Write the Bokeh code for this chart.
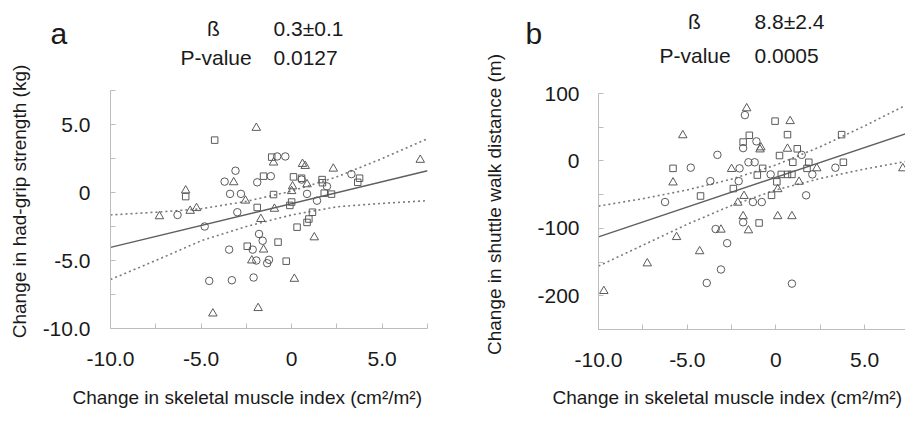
import math
from bokeh.plotting import figure
from bokeh.layouts import row, column
from bokeh.models import Range1d, FixedTicker
from bokeh.core.properties import value
from bokeh.embed import file_html
from bokeh.resources import INLINE

# ---------------- data: panel a (hand-grip strength) ----------------
a_circle_x = [-6.3, -4.8, -3.7, -3.1, -3.4, -2.8, -3.0, -1.9, -1.8, -1.6, -0.8, -0.35, -1.15,
              0.55, 0.85, 1.4, 1.95, 3.3, -3.45, -2.15, -1.95, -1.25, -1.35, -4.55, -3.3, -2.1]
a_circle_y = [-1.65, -2.5, 0.8, 1.6, -0.1, -0.1, -1.45, 0.75, -3.05, -3.55, 2.65, 2.65, 1.2,
              0.95, -0.1, -0.6, 0.45, 1.35, -4.2, -4.2, -5.0, -4.95, -5.2, -6.5, -6.45, -6.25]
a_square_x = [-5.85, -4.25, -1.9, -2.45, -1.1, -1.55, -1.0, -0.75, -0.1, 0.0, 0.1, 0.55,
              1.15, 0.95, 0.85, 0.3, 1.68, 1.7, 1.8, 2.2, 3.75, 3.65, -0.3]
a_square_y = [-0.3, 3.85, -1.1, -3.95, 2.6, 1.2, -0.15, -3.65, -0.95, -0.7, 1.15, 1.05,
              -1.45, -1.95, -2.2, -2.55, 0.95, 0.72, -0.05, -0.12, 1.05, 0.75, -5.05]
a_tri_x = [-7.3, -5.85, -5.6, -5.25, -3.2, -2.55, -1.95, -1.7, -1.0, -0.95, 0.0, 0.05, 0.6,
           0.75, 0.85, 1.25, 2.3, 7.1, -1.55, -2.2, 0.15, -4.35, -1.85]
a_tri_y = [-1.75, 0.15, -1.35, -1.15, 0.75, -0.6, 4.75, -1.95, 2.2, -1.2, 0.1, 0.45, 2.1,
           1.95, 0.6, -3.3, 1.75, 2.4, -4.2, -5.0, -6.35, -8.9, -8.5]
a_fit_y = [-4.04, 1.6]
a_upper = [-1.65, -1.45, -1.2, -0.65, 0.1, 1.15, 2.5, 3.95]
a_lower = [-6.4, -5.0, -3.55, -2.5, -1.65, -1.05, -0.8, -0.6]

# ---------------- data: panel b (shuttle walk distance) ----------------
b_circle_x = [-3.9, -3.1, -2.75, -3.4, -6.25, -4.8, -3.7, -3.3, -2.05, -2.1, -1.85, -1.55,
              -1.2, -1.85, -1.75, -1.1, -1.3, -0.8, -0.3, 0.9, 1.45, 2.05, 1.7, 3.35]
b_circle_y = [-181, -161, -122, -101, -61, -10, -30, 9, -11, -30, -91, -2,
              -2, 19, 68, 29, -61, -61, -20, -182, 9, -20, -51, -10]
b_square_x = [-4.25, -5.8, -2.4, -1.85, -1.5, -0.75, -1.05, 0.3, 0.65, 0.9, 0.05, -0.25,
              -0.95, -0.05, 0.65, 1.2, 0.2, 0.95, 1.85, 1.75, 3.8, 3.7]
b_square_y = [-52, -11, -41, 28, 38, -11, -21, -20, -20, -20, -31, -51,
              -92, 59, 39, 18, 8, -2, -2, -11, -2, 39]
b_tri_x = [-9.7, -7.25, -5.6, -4.3, -3.1, -5.8, -5.25, -2.5, -1.8, -2.15, -1.85, -1.55,
           -1.65, -0.9, -0.85, 0.1, 0.1, 0.9, 0.8, 0.65, 2.3, 1.3, 7.15]
b_tri_y = [-193, -152, -113, -134, -102, -32, 38, -12, -52, -62, -82, -103,
           78, 17, 20, -42, -82, -82, 59, 18, -11, -31, -11]
b_fit_y = [-112.6, 42.1]
b_upper = [-67, -56, -43, -27, -6, 21, 52, 85]
b_lower = [-156, -125, -94, -66, -43, -26, -12, 0]

fit_x = [-10, 7.5]
ci_x = [-10, -7.5, -5, -2.5, 0, 2.5, 5, 7.5]

x_ticks = [-10, -7.5, -5, -2.5, 0, 2.5, 5, 7.5]
x_tick_labels = {-10: "-10.0", -7.5: "", -5: "-5.0", -2.5: "", 0: "0", 2.5: "", 5: "5.0", 7.5: ""}
a_y_ticks = [-10, -7.5, -5, -2.5, 0, 2.5, 5, 7.5]
a_y_tick_labels = {-10: "-10.0", -7.5: "", -5: "-5.0", -2.5: "", 0: "0", 2.5: "", 5: "5.0", 7.5: ""}
b_y_ticks = [-250, -200, -150, -100, -50, 0, 50, 100]
b_y_tick_labels = {-250: "", -200: "-200", -150: "", -100: "-100", -50: "", 0: "0", 50: "", 100: "100"}

x_label = "Change in skeletal muscle index (cm²/m²)"
a_y_label = "Change in had-grip strength (kg)"
b_y_label = "Change in shuttle walk distance (m)"
a_letter, b_letter = "a", "b"
beta_sym = "ß"
p_name = "P-value"
a_beta, a_p = "0.3±0.1", "0.0127"
b_beta, b_p = "8.8±2.4", "0.0005"

FONT = "Liberation Sans"
TXT = "#1a1a1a"
MARK = "#5a5a5a"
AXIS = "#bdbdbd"

TOTAL_H = 408
HEAD_H = 70
FOOT_H = 28
MAIN_H = TOTAL_H - HEAD_H - FOOT_H
SA, SB = 35, 60          # widths of the y-label strips
WA, WB = 425, 385        # widths of the plot columns


def blank(width, height):
    p = figure(width=width, height=height, output_backend="svg", toolbar_location=None,
               x_range=Range1d(0, width), y_range=Range1d(0, height),
               x_axis_location=None, y_axis_location=None,
               min_border_left=0, min_border_right=0, min_border_top=0, min_border_bottom=0)
    p.outline_line_color = None
    p.grid.visible = False
    p.border_fill_color = "white"
    return p


def txt(p, x, y, t, size="21px", align="left", baseline="middle", angle=0.0):
    p.text(x=[x], y=[y], text=[t], text_font=value(FONT), text_font_size=size,
           text_color=TXT, text_align=align, text_baseline=baseline, angle=angle)


def make_panel(width, height, borders, xr, yr, y_ticks, y_tick_labels,
               y_standoff, cx, cy, sx, sy, tx, ty, fit_y, upper, lower):
    left, right, top, bottom = borders
    p = figure(width=width, height=height, output_backend="svg", toolbar_location=None,
               x_range=Range1d(*xr), y_range=Range1d(*yr),
               min_border_left=left, min_border_right=right,
               min_border_top=top, min_border_bottom=bottom)
    p.outline_line_color = None
    p.grid.visible = False
    p.border_fill_color = "white"

    p.xaxis.ticker = FixedTicker(ticks=x_ticks)
    p.xaxis.major_label_overrides = x_tick_labels
    p.yaxis.ticker = FixedTicker(ticks=y_ticks)
    p.yaxis.major_label_overrides = y_tick_labels
    for ax in (p.xaxis, p.yaxis):
        ax.axis_line_color = AXIS
        ax.major_tick_line_color = AXIS
        ax.minor_tick_line_color = None
        ax.major_tick_in = 5
        ax.major_tick_out = 0
        ax.major_label_text_font = FONT
        ax.major_label_text_font_size = "21px"
        ax.major_label_text_color = TXT
    p.xaxis.major_label_standoff = 23
    p.yaxis.major_label_standoff = y_standoff

    p.line(ci_x, upper, line_color="#7a7a7a", line_width=1.6, line_dash="2 3")
    p.line(ci_x, lower, line_color="#7a7a7a", line_width=1.6, line_dash="2 3")
    p.line(fit_x, fit_y, line_color="#5f5f5f", line_width=1.4)

    p.scatter(cx, cy, marker="circle", size=7.5, fill_color=None, line_color=MARK, line_width=1)
    p.scatter(sx, sy, marker="square", size=6.5, fill_color=None, line_color=MARK, line_width=1)
    p.scatter(tx, ty, marker="triangle", size=8.5, fill_color=None, line_color=MARK, line_width=1)
    return p


# ---- panel a: strip 0..35, column 35..460; frame x 110..427, y 90..328 ----
sa = blank(SA, TOTAL_H)
txt(sa, 18.5, TOTAL_H - 201, a_y_label, size="19px", align="center", angle=math.pi / 2)
ha = blank(WA, HEAD_H)
txt(ha, 15, HEAD_H - 33, a_letter, size="30px", baseline="alphabetic")
txt(ha, 178, HEAD_H - 28, beta_sym, align="center")
txt(ha, 238, HEAD_H - 28, a_beta)
txt(ha, 145, HEAD_H - 57, p_name)
txt(ha, 238, HEAD_H - 57, a_p)
pa = make_panel(WA, MAIN_H, (110 - SA, SA + WA - 427, 90 - HEAD_H, HEAD_H + MAIN_H - 328),
                (-10, 7.5), (-10, 7.5), a_y_ticks, a_y_tick_labels, 20,
                a_circle_x, a_circle_y, a_square_x, a_square_y,
                a_tri_x, a_tri_y, a_fit_y, a_upper, a_lower)
fa = blank(WA, FOOT_H)
txt(fa, 72 - SA, 11, x_label, size="19px")

# ---- panel b: strip 460..520, column 520..905; frame x 598..905, y 93..329 ----
X0B = SA + WA + SB
sb = blank(SB, TOTAL_H)
txt(sb, 34, TOTAL_H - 204, b_y_label, size="19px", align="center", angle=math.pi / 2)
hb = blank(WB, HEAD_H)
txt(hb, 528 - 3 - X0B, HEAD_H - 33, b_letter, size="30px", baseline="alphabetic")
txt(hb, 697 - 3 - X0B, HEAD_H - 21, beta_sym, align="center")
txt(hb, 757 - 3 - X0B, HEAD_H - 21, b_beta)
txt(hb, 662 - 3 - X0B, HEAD_H - 55, p_name)
txt(hb, 757 - 3 - X0B, HEAD_H - 55, b_p)
pb = make_panel(WB, MAIN_H, (598 - X0B, 0, 93 - HEAD_H, HEAD_H + MAIN_H - 329),
                (-10, 7.3), (-250, 100), b_y_ticks, b_y_tick_labels, 19,
                b_circle_x, b_circle_y, b_square_x, b_square_y,
                b_tri_x, b_tri_y, b_fit_y, b_upper, b_lower)
fb = blank(WB, FOOT_H)
txt(fb, 552 - X0B, 11, x_label, size="19px")

# each plot wrapped in its own row so that the column does not align their frames
layout = row(sa, column(row(ha), row(pa), row(fa)), sb, column(row(hb), row(pb), row(fb)))
open("out.html", "w").write(file_html(layout, INLINE))
